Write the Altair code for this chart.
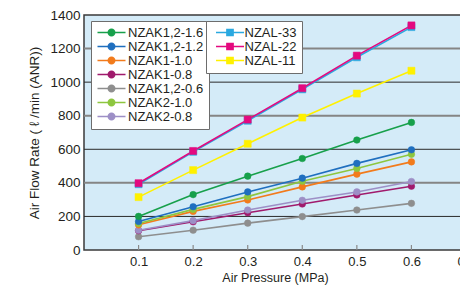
import altair as alt
import pandas as pd

FONT = "Liberation Sans, Arial, Helvetica, sans-serif"

pressure = [0.1, 0.2, 0.3, 0.4, 0.5, 0.6]
x_ticks = [0.1, 0.2, 0.3, 0.4, 0.5, 0.6, 0.7]
y_ticks = [0, 200, 400, 600, 800, 1000, 1200, 1400]
grid_dark = [200, 600, 1000]
grid_gray = [400, 800, 1200]

nzak_names = ["NZAK1,2-1.6", "NZAK1,2-1.2", "NZAK1-1.0", "NZAK1-0.8",
              "NZAK1,2-0.6", "NZAK2-1.0", "NZAK2-0.8"]
nzak_colors = ["#17a04b", "#1f6fbf", "#f27b1c", "#a01a6c",
               "#8e8e8e", "#8dc63f", "#9d8fc6"]
nzak12_16 = [200, 330, 440, 545, 655, 760]
nzak12_12 = [170, 258, 346, 428, 516, 597]
nzak1_10 = [150, 230, 298, 376, 452, 525]
nzak1_08 = [115, 168, 222, 274, 328, 380]
nzak12_06 = [79, 118, 160, 199, 238, 278]
nzak2_10 = [158, 242, 318, 410, 486, 570]
nzak2_08 = [118, 175, 238, 296, 346, 408]

nzal_names = ["NZAL-33", "NZAL-22", "NZAL-11"]
nzal_colors = ["#2aa9e0", "#e4097f", "#fff100"]
nzal_33 = [392, 585, 770, 957, 1148, 1328]
nzal_22 = [398, 590, 777, 964, 1158, 1338]
nzal_11 = [315, 476, 633, 789, 932, 1068]

# drawing order (bottom to top)
nzak_series = [("NZAK1,2-0.6", nzak12_06), ("NZAK1-0.8", nzak1_08), ("NZAK2-0.8", nzak2_08),
               ("NZAK1-1.0", nzak1_10), ("NZAK2-1.0", nzak2_10), ("NZAK1,2-1.2", nzak12_12),
               ("NZAK1,2-1.6", nzak12_16)]
nzal_series = [("NZAL-11", nzal_11), ("NZAL-33", nzal_33), ("NZAL-22", nzal_22)]


def long(series):
    rows = []
    for i, (name, vals) in enumerate(series):
        for p, v in zip(pressure, vals):
            rows.append({"series": name, "p": p, "flow": v, "k": i})
    return pd.DataFrame(rows)


df_k = long(nzak_series)
df_l = long(nzal_series)

xs = alt.Scale(domain=[0, 0.7], nice=False, zero=False)
ys = alt.Scale(domain=[0, 1400], nice=False)

CIRCLE_PATH = "M-2.8,0H2.8M-0.65,0A0.65,0.65,0,1,1,0.65,0A0.65,0.65,0,1,1,-0.65,0Z"
SQUARE_PATH = "M-2.8,0H2.8M-0.62,-0.62H0.62V0.62H-0.62Z"


def legend(x, y, path, sym_off, lab_off):
    return alt.Legend(title=None, orient="none", legendX=x, legendY=y,
                      symbolType=path, symbolSize=100, symbolStrokeWidth=1.5,
                      labelFont=FONT, labelFontSize=13, labelColor="#231f20",
                      fillColor="white", strokeColor="#6d6d6d", padding=5,
                      rowPadding=0, symbolOffset=sym_off, labelOffset=lab_off)


kscale = alt.Scale(domain=nzak_names, range=nzak_colors)
lscale = alt.Scale(domain=nzal_names, range=nzal_colors)
kleg = legend(7, 6, CIRCLE_PATH, 9, 10)
lleg = legend(122, 6, SQUARE_PATH, 12.5, 8)

x_axis = alt.Axis(
    values=x_ticks, tickCount=12, format=".1f", title="Air Pressure (MPa)", grid=False,
    domain=False, ticks=False, labelFlush=False, labelPadding=5, labelOverlap=False,
    labelFont=FONT, labelFontSize=13, labelColor="#231f20",
    titleFont=FONT, titleFontSize=12.5, titleFontWeight="normal",
    titleColor="#231f20", titlePadding=3)
y_axis = alt.Axis(
    values=y_ticks, tickCount=12, format="d", title="Air Flow Rate ( ℓ /min (ANR))", grid=False,
    domain=False, ticks=False, labelPadding=4, labelOverlap=False,
    labelFont=FONT, labelFontSize=13.5, labelColor="#231f20",
    titleFont=FONT, titleFontSize=13.5, titleFontWeight="normal",
    titleColor="#231f20", titlePadding=8)

gd = alt.Chart(pd.DataFrame({"g": grid_dark})).mark_rule(color="#2a2a2a", strokeWidth=1).encode(
    y=alt.Y("g:Q", scale=ys, axis=y_axis))
gg = alt.Chart(pd.DataFrame({"g": grid_gray})).mark_rule(color="#858585", strokeWidth=2).encode(
    y=alt.Y("g:Q", scale=ys, axis=y_axis))

xticks_df = pd.DataFrame({"t": x_ticks})
tick_rules = alt.Chart(xticks_df).mark_rule(color="#8a8a8a", strokeWidth=1.2).encode(
    x=alt.X("t:Q", scale=xs, axis=x_axis), y=alt.value(235), y2=alt.value(230))

base_k = alt.Chart(df_k)
k_line = base_k.mark_line(strokeWidth=1.6).encode(
    x=alt.X("p:Q", scale=xs, axis=x_axis), y=alt.Y("flow:Q", scale=ys, axis=y_axis),
    stroke=alt.Stroke("series:N", scale=kscale, legend=kleg),
    detail="k:O")
k_pt = base_k.mark_point(filled=True, shape="circle", size=44, strokeWidth=0.5, opacity=1).encode(
    x="p:Q", y="flow:Q",
    fill=alt.Fill("series:N", scale=kscale, legend=kleg),
    stroke=alt.Stroke("series:N", scale=kscale, legend=kleg),
    order="k:O")
nzak = alt.layer(k_line, k_pt)

base_l = alt.Chart(df_l)
l_line = base_l.mark_line(strokeWidth=1.6).encode(
    x="p:Q", y="flow:Q",
    stroke=alt.Stroke("series:N", scale=lscale, legend=lleg),
    detail="k:O")
l_pt = base_l.mark_point(filled=True, shape="square", size=50, strokeWidth=0.5, opacity=1).encode(
    x="p:Q", y="flow:Q",
    fill=alt.Fill("series:N", scale=lscale, legend=lleg),
    stroke=alt.Stroke("series:N", scale=lscale, legend=lleg),
    order="k:O")
nzal = alt.layer(l_line, l_pt)

chart = alt.layer(gd, gg, tick_rules, nzak, nzal).resolve_scale(
    fill="independent", stroke="independent"
).properties(
    width=382, height=235,
    autosize=alt.AutoSizeParams(type="none"),
    padding={"left": 76, "top": 7, "right": -6, "bottom": 38},
    background="white",
).configure_view(
    fill="#d4ebf8", stroke="#3a3a3a", strokeWidth=1.5
).configure_axis(
    labelOverlap=False
)

chart.save("out.html", embed_options={"renderer": "svg", "actions": False})
